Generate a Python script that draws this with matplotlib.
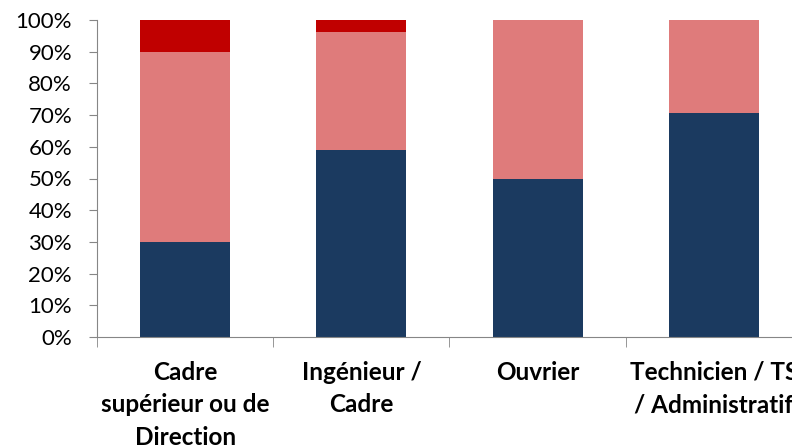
import matplotlib.pyplot as plt
from matplotlib.ticker import FixedLocator, PercentFormatter

categories = ["Cadre\nsupérieur ou de\nDirection", "Ingénieur /\nCadre", "Ouvrier",
              "Technicien / TS\n/ Administratif"]
navy_vals = [30.0, 59.0, 50.0, 70.6]
pink_vals = [60.0, 37.3, 50.0, 29.4]
red_vals = [10.0, 3.7, 0.0, 0.0]

plt.rcParams['font.family'] = ['Lato', 'DejaVu Sans']

fig = plt.figure(figsize=(7.92, 4.45), dpi=100)
# axes run past the right edge of the figure, so the last label is cut
ax = fig.add_axes([97 / 792, 1 - 337 / 445, 705 / 792, 317 / 445])

x = list(range(len(categories)))
w = 0.51
ax.bar(x, navy_vals, w, color='#1b3a60')
ax.bar(x, pink_vals, w, bottom=navy_vals, color='#df7b7b')
bottoms = [a + b for a, b in zip(navy_vals, pink_vals)]
ax.bar(x, red_vals, w, bottom=bottoms, color='#c00000')

ax.set_xlim(-0.5, 3.5)
ax.set_ylim(0, 100)
ax.set_yticks(range(0, 101, 10))
ax.yaxis.set_major_formatter(PercentFormatter(decimals=0))

ax.set_xticks(x)
ax.set_xticklabels(categories, fontweight='bold', fontsize=17.5, linespacing=1.5)
ax.xaxis.set_minor_locator(FixedLocator([-0.5, 0.5, 1.5, 2.5, 3.5]))
ax.tick_params(axis='x', which='major', length=0, pad=17)
ax.tick_params(axis='x', which='minor', length=7, color='#868686', direction='out')
ax.tick_params(axis='y', length=6, color='#868686', labelsize=16, pad=12)

for side in ['top', 'right']:
    ax.spines[side].set_visible(False)
for side in ['left', 'bottom']:
    ax.spines[side].set_color('#868686')

fig.savefig('out.png', dpi=100)
